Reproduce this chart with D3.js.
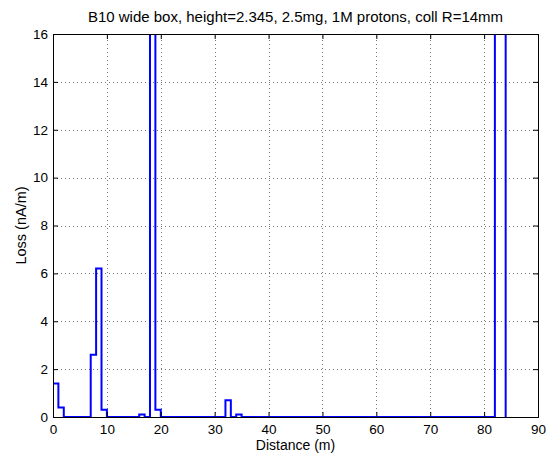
<!DOCTYPE html>
<html>
<head>
<meta charset="utf-8">
<script src="https://cdn.jsdelivr.net/npm/d3@7"></script>
<style>
  body { margin: 0; background: #fff; }
  text { font-family: "Liberation Sans", Arial, Helvetica, sans-serif; fill: #000; }
</style>
</head>
<body>
<svg id="chart" width="547" height="454"></svg>
<script>
// Bin left edges (m), 1 m wide bins
const binStarts = [0,1,2,3,4,5,6,7,8,9,10,11,12,13,14,15,16,17,18,19,20,21,22,23,24,25,26,27,28,29,30,31,32,33,34,35,36,37,38,39,40,41,42,43,44,45,46,47,48,49,50,51,52,53,54,55,56,57,58,59,60,61,62,63,64,65,66,67,68,69,70,71,72,73,74,75,76,77,78,79,80,81,82,83];
// Loss (nA/m) per bin; values above 16 are off-scale in the original
const lossValues = [1.4,0.4,0,0,0,0,0,2.6,6.2,0.3,0,0,0,0,0,0,0.1,0,45,0.3,0,0,0,0,0,0,0,0,0,0,0,0,0.7,0,0.1,0,0,0,0,0,0,0,0,0,0,0,0,0,0,0,0,0,0,0,0,0,0,0,0,0,0,0,0,0,0,0,0,0,0,0,0,0,0,0,0,0,0,0,0,0,0,0,40,35];
const xTicks = [0,10,20,30,40,50,60,70,80,90];
const yTicks = [0,2,4,6,8,10,12,14,16];
const titleText = "B10 wide box, height=2.345, 2.5mg, 1M protons, coll R=14mm";
const xLabel = "Distance (m)";
const yLabel = "Loss (nA/m)";

const margin = {left: 53, right: 9, top: 34, bottom: 37};
const W = 547, H = 454;
const svg = d3.select("#chart");
const x = d3.scaleLinear().domain([0, 90]).range([margin.left, W - margin.right]);
const y = d3.scaleLinear().domain([0, 16]).range([H - margin.bottom, margin.top]);

// grid
const grid = svg.append("g").attr("stroke", "#777").attr("stroke-width", 1).attr("stroke-dasharray", "1,3");
xTicks.slice(1, -1).forEach(t => grid.append("line").attr("x1", Math.round(x(t)) + 0.5).attr("x2", Math.round(x(t)) + 0.5).attr("y1", y(0)).attr("y2", y(16)));
yTicks.slice(1, -1).forEach(t => grid.append("line").attr("y1", Math.round(y(t)) + 0.5).attr("y2", Math.round(y(t)) + 0.5).attr("x1", x(0)).attr("x2", x(90)));

// step data
const pts = [];
binStarts.forEach((s, i) => { pts.push([s, lossValues[i]]); pts.push([s + 1, lossValues[i]]); });
pts.push([binStarts[binStarts.length - 1] + 1, 0]);
pts.unshift([0, 0]);

svg.append("clipPath").attr("id", "clip").append("rect")
  .attr("x", x(0)).attr("y", y(16)).attr("width", x(90) - x(0)).attr("height", y(0) - y(16));

svg.append("path")
  .datum(pts)
  .attr("clip-path", "url(#clip)")
  .attr("fill", "none")
  .attr("stroke", "#0000ff")
  .attr("stroke-width", 2)
  .attr("d", d3.line().x(d => x(d[0])).y(d => y(d[1])));

// axes
const tl = 5;
const xb = svg.append("g").attr("transform", `translate(0,${y(0)})`)
  .call(d3.axisBottom(x).tickValues(xTicks).tickSize(-tl).tickPadding(7).tickFormat(d3.format("d")));
const xt = svg.append("g").attr("transform", `translate(0,${y(16)})`)
  .call(d3.axisTop(x).tickValues(xTicks).tickSize(-tl).tickFormat(""));
const yl = svg.append("g").attr("transform", `translate(${x(0)},0)`)
  .call(d3.axisLeft(y).tickValues(yTicks).tickSize(-tl).tickPadding(5).tickFormat(d3.format("d")));
const yr = svg.append("g").attr("transform", `translate(${x(90)},0)`)
  .call(d3.axisRight(y).tickValues(yTicks).tickSize(-tl).tickFormat(""));
[xb, xt, yl, yr].forEach(g => {
  g.selectAll(".domain").attr("stroke", "#000").attr("stroke-width", 1);
  g.selectAll(".tick line").attr("stroke", "#000");
  g.selectAll("text").style("font-size", "13.5px").attr("fill", "#000");
});

svg.append("text").attr("x", (x(0) + x(90)) / 2).attr("y", 22).attr("text-anchor", "middle")
  .style("font-size", "15px").text(titleText);
svg.append("text").attr("x", (x(0) + x(90)) / 2).attr("y", 450).attr("text-anchor", "middle")
  .style("font-size", "14px").text(xLabel);
svg.append("text").attr("transform", `translate(26,${(y(0) + y(16)) / 2}) rotate(-90)`).attr("text-anchor", "middle")
  .style("font-size", "14.5px").text(yLabel);
</script>
</body>
</html>
